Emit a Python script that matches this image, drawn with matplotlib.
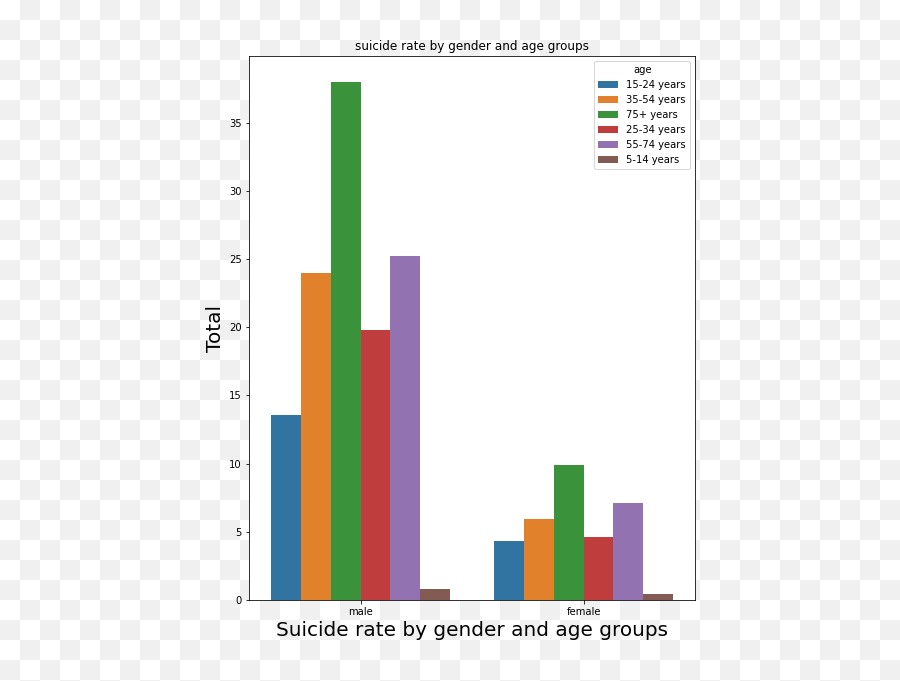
import numpy as np
import matplotlib
matplotlib.use("Agg")
import matplotlib.pyplot as plt

sexes = ["male", "female"]
ages = ["15-24 years", "35-54 years", "75+ years", "25-34 years", "55-74 years", "5-14 years"]
male_vals = [13.6, 24.0, 38.0, 19.8, 25.2, 0.8]
female_vals = [4.3, 5.95, 9.9, 4.6, 7.1, 0.45]
colors = ["#3274a1", "#e1812c", "#3a923a", "#c03d3e", "#9372b2", "#845b53"]

W, H, DPI = 900, 681, 72
fig = plt.figure(figsize=(W / DPI, H / DPI), dpi=DPI)
fig.patch.set_alpha(0)

# checkerboard backdrop (transparent image rendering)
yy, xx = np.mgrid[0:H, 0:W]
chk = ((xx // 20 + yy // 20) % 2).astype(float)
img = np.ones((H, W, 3))
img[chk == 1] = 0xf0 / 255.0
fig.figimage(img, xo=0, yo=0, origin="upper", zorder=-10)

ax = fig.add_axes([249 / W, 1 - 600 / H, (695 - 249) / W, (600 - 56) / H])
ax.set_facecolor("white")

n = len(ages)
width = 0.8 / n
x = np.arange(len(sexes))
for i, (age, c) in enumerate(zip(ages, colors)):
    vals = [male_vals[i], female_vals[i]]
    offs = -0.4 + width * (i + 0.5)
    ax.bar(x + offs, vals, width=width, color=c, label=age, linewidth=0)

ax.set_xlim(-0.5, 1.5)
ax.set_ylim(0, 38.0 * 1.05)
ax.set_xticks(x)
ax.set_xticklabels(sexes)
ax.tick_params(labelsize=10)
ax.set_title("suicide rate by gender and age groups", fontsize=12)
ax.set_xlabel("Suicide rate by gender and age groups", fontsize=20)
ax.set_ylabel("Total", fontsize=20)
ax.legend(title="age", loc="upper right", fontsize=10, title_fontsize=10)

fig.savefig("out.png", dpi=DPI)
